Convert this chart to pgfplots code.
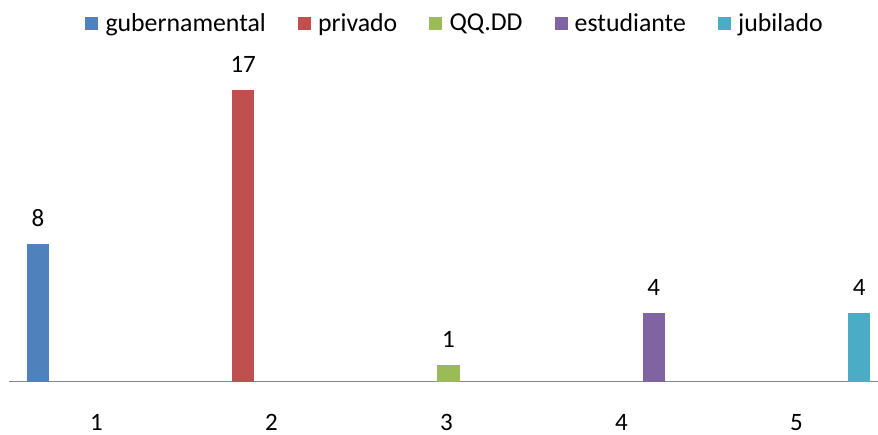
\documentclass[border=0pt]{standalone}
\usepackage{fontspec}
\setmainfont{Carlito}
\usepackage{pgfplots}
\pgfplotsset{compat=1.18}

\definecolor{cBlue}{HTML}{4F81BD}
\definecolor{cRed}{HTML}{C0504D}
\definecolor{cGreen}{HTML}{9BBB59}
\definecolor{cPurple}{HTML}{8064A2}
\definecolor{cCyan}{HTML}{4BACC6}
\definecolor{axisgray}{HTML}{868686}

\pgfplotsset{
  sqlegend/.style={legend image code/.code={\fill[##1] (0pt,-3.25pt) rectangle (6.5pt,3.25pt);}},
}

\begin{document}
\begin{tikzpicture}
\useasboundingbox (0,0) rectangle (439pt,217pt);
\begin{axis}[
  at={(4.5pt,26.15pt)}, anchor=south west,
  scale only axis,
  width=437.5pt, height=171.8pt,
  xmin=0.5, xmax=5.5, ymin=0, ymax=20,
  axis y line=none,
  axis x line=bottom,
  x axis line style={-, draw=axisgray, line width=0.6pt},
  xtick={1,2,3,4,5},
  xticklabels={1,2,3,4,5},
  major tick length=0pt,
  ytick=\empty,
  font=\fontsize{12.5}{15}\selectfont,
  /pgf/number format/assume math mode=true,
  xticklabel style={anchor=north, inner sep=0pt, yshift=-16pt},
  ybar, bar width=11.25pt,
  nodes near coords,
  nodes near coords style={anchor=south, inner sep=0pt, yshift=8.5pt, font=\fontsize{12.5}{15}\selectfont},
  legend columns=5,
  legend style={draw=none, fill=none, at={(0.5086,1)}, anchor=center, yshift=7.25pt,
    font=\fontsize{12.9}{15}\selectfont,
    nodes={inner sep=0pt},
    /tikz/every odd column/.append style={column sep=3.6pt},
    /tikz/every even column/.append style={column sep=16pt}},
]
\addplot[sqlegend, fill=cBlue, draw=none, bar shift=-29.3pt] coordinates {(1,8)};
\addplot[sqlegend, fill=cRed, draw=none, bar shift=-14.15pt] coordinates {(2,17)};
\addplot[sqlegend, fill=cGreen, draw=none, bar shift=1pt] coordinates {(3,1)};
\addplot[sqlegend, fill=cPurple, draw=none, bar shift=16.15pt] coordinates {(4,4)};
\addplot[sqlegend, fill=cCyan, draw=none, bar shift=31.3pt] coordinates {(5,4)};
\legend{gubernamental, privado, QQ.DD, estudiante, jubilado}
\end{axis}
\end{tikzpicture}
\end{document}
